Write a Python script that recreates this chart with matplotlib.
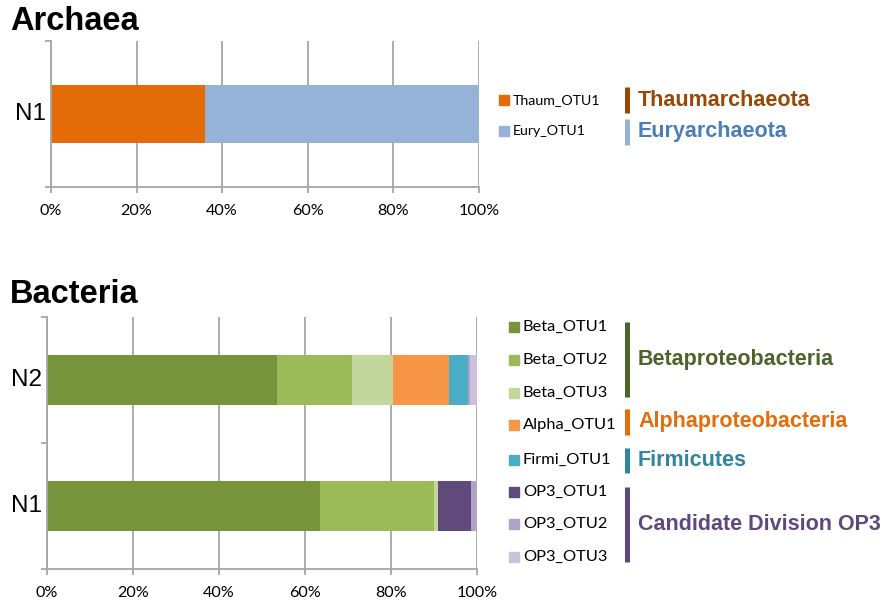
import matplotlib
matplotlib.use('Agg')
import numpy as np
import matplotlib.pyplot as plt
from matplotlib.patches import Rectangle

# Archaea, sample N1 (percent)
arch_names = ['Thaum_OTU1', 'Eury_OTU1']
arch_colors = ['#E36C09', '#95B3D7']
arch_n1 = [36.0, 64.0]
arch_groups = ['Thaumarchaeota', 'Euryarchaeota']
arch_group_colors = ['#974806', '#4A7DBA']
arch_bracket_colors = ['#974806', '#95B3D7']

# Bacteria, samples N1 and N2 (percent)
bact_samples = ['N1', 'N2']
bact_names = ['Beta_OTU1', 'Beta_OTU2', 'Beta_OTU3', 'Alpha_OTU1',
              'Firmi_OTU1', 'OP3_OTU1', 'OP3_OTU2', 'OP3_OTU3']
bact_colors = ['#77933C', '#9BBB59', '#C3D69B', '#F79646',
               '#4BACC6', '#604A7B', '#B3A2C7', '#CCC1DA']
bact_n1 = [63.6, 26.4, 0.9, 0.0, 0.0, 7.8, 1.3, 0.0]
bact_n2 = [53.5, 17.4, 9.6, 13.0, 4.4, 0.0, 0.4, 1.7]
bact_groups = ['Betaproteobacteria', 'Alphaproteobacteria', 'Firmicutes',
               'Candidate Division OP3']
bact_group_colors = ['#4F6228', '#E46C0A', '#31859C', '#5F497A']

W, H = 892, 609
GRID = '#A6A6A6'
TICKFONT = 'Lato'
HEADFONT = 'Liberation Sans'

fig = plt.figure(figsize=(W / 100, H / 100), dpi=100)


def fx(px):
    return px / W


def fy(py):
    return 1 - py / H


def style_axes(ax, nrows):
    ax.set_xlim(0, 100)
    ax.set_ylim(-0.5, nrows - 0.5)
    ax.set_xticks(np.arange(0, 101, 20))
    ax.set_xticklabels(['%d%%' % v for v in range(0, 101, 20)],
                       fontsize=11.6, family=TICKFONT)
    ax.set_yticks(np.arange(-0.5, nrows, 1.0))
    ax.set_yticklabels([])
    ax.grid(True, axis='x', color=GRID, lw=1.3, zorder=0)
    ax.set_axisbelow(True)
    for s in ['top', 'right']:
        ax.spines[s].set_visible(False)
    for s in ['left', 'bottom']:
        ax.spines[s].set_color(GRID)
        ax.spines[s].set_linewidth(1.3)
    ax.tick_params(axis='both', color=GRID, width=1.3, length=4,
                   direction='out')
    ax.tick_params(axis='x', labelcolor='black', pad=8)


# ---------------- Archaea ----------------
axa = fig.add_axes([fx(51), fy(187), fx(479 - 51), (187 - 41) / H])
left = 0.0
for name, col, v in zip(arch_names, arch_colors, arch_n1):
    axa.barh([0], [v], left=left, height=0.4, color=col, zorder=2)
    left += v
style_axes(axa, 1)
axa.text(-1.2, 0, 'N1', ha='right', va='center', fontsize=17.5,
         family=HEADFONT, transform=axa.transData)
fig.text(fx(10), fy(22), 'Archaea', fontsize=23.5, fontweight='bold',
         family=HEADFONT, ha='left', va='center')

arch_y = [100, 131]
for name, col, y in zip(arch_names, arch_colors, arch_y):
    fig.patches.append(Rectangle((fx(499), fy(y + 5)), fx(10), 10 / H,
                                 color=col, transform=fig.transFigure))
    fig.text(fx(513), fy(y), name, fontsize=10.2, family=TICKFONT,
             ha='left', va='center')
arch_spans = [(87, 113), (119, 145)]
for grp, col, bcol, (y0, y1) in zip(arch_groups, arch_group_colors,
                                    arch_bracket_colors, arch_spans):
    fig.add_artist(plt.Line2D([fx(626.5), fx(626.5)], [fy(y0), fy(y1)],
                              color=bcol, lw=3.6, solid_capstyle='butt',
                              transform=fig.transFigure))
    fig.text(fx(638), fy((y0 + y1) / 2), grp, fontsize=15.5,
             fontweight='bold', family=HEADFONT, color=col,
             ha='left', va='center')

# ---------------- Bacteria ----------------
axb = fig.add_axes([fx(47), fy(569), fx(477 - 47), (569 - 317) / H])
data = np.array([bact_n1, bact_n2])
lefts = np.zeros(len(bact_samples))
for j, (name, col) in enumerate(zip(bact_names, bact_colors)):
    axb.barh(np.arange(len(bact_samples)), data[:, j], left=lefts,
             height=0.4, color=col, zorder=2)
    lefts += data[:, j]
style_axes(axb, len(bact_samples))
for i, s in enumerate(bact_samples):
    axb.text(-1.2, i, s, ha='right', va='center', fontsize=17.5,
             family=HEADFONT, transform=axb.transData)
fig.text(fx(10), fy(294), 'Bacteria', fontsize=23.5, fontweight='bold',
         family=HEADFONT, ha='left', va='center')

bact_y = [327, 360, 393, 425, 460, 492, 524, 557]
for name, col, y in zip(bact_names, bact_colors, bact_y):
    fig.patches.append(Rectangle((fx(509), fy(y + 5)), fx(10), 10 / H,
                                 color=col, transform=fig.transFigure))
    fig.text(fx(523), fy(y), name, fontsize=11.8, family=TICKFONT,
             ha='left', va='center')
bact_spans = [(322, 397), (409, 435), (448, 473), (487, 562)]
for grp, col, (y0, y1) in zip(bact_groups, bact_group_colors, bact_spans):
    fig.add_artist(plt.Line2D([fx(626.5), fx(626.5)], [fy(y0), fy(y1)],
                              color=col, lw=3.6, solid_capstyle='butt',
                              transform=fig.transFigure))
    fig.text(fx(638), fy((y0 + y1) / 2), grp, fontsize=15.5,
             fontweight='bold', family=HEADFONT, color=col,
             ha='left', va='center')

fig.savefig('out.png', dpi=100)
